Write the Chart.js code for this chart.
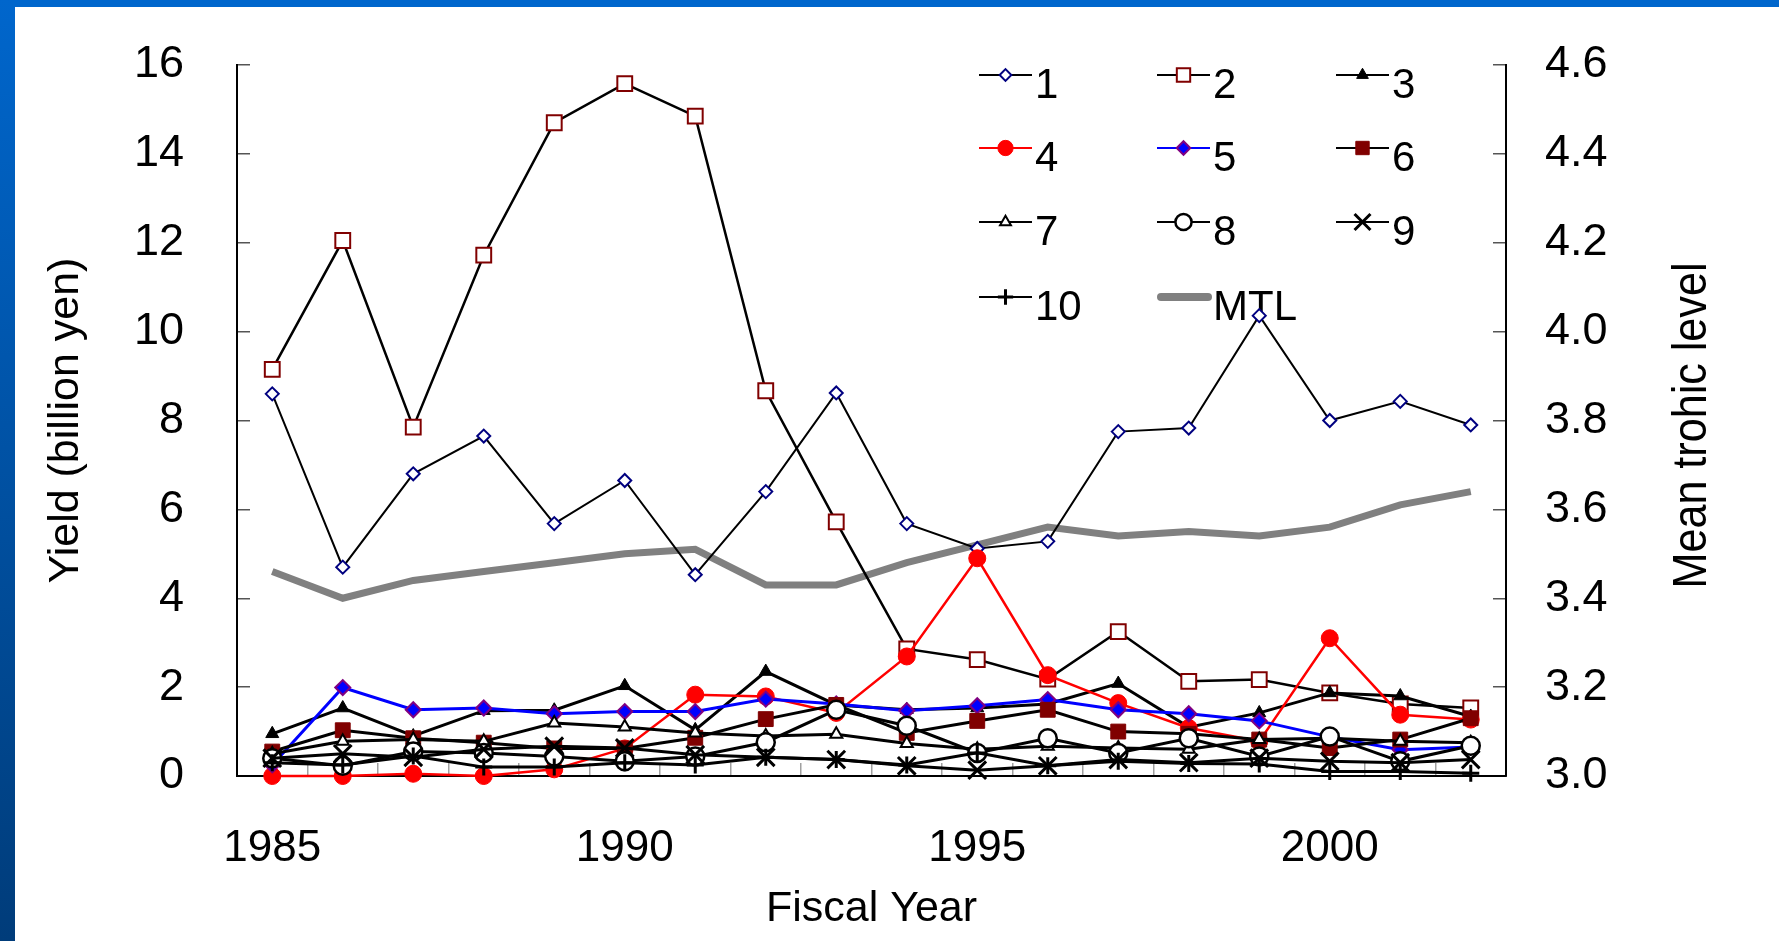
<!DOCTYPE html>
<html>
<head>
<meta charset="utf-8">
<script src="https://cdn.jsdelivr.net/npm/chart.js@4.4.1/dist/chart.umd.min.js"></script>
<style>
  html, body { margin: 0; padding: 0; background: #fff; }
  #wrap { position: relative; width: 1779px; height: 941px; overflow: hidden; background: #fff; }
  #topbar { position: absolute; left: 0; top: 0; width: 1779px; height: 7px; background: #0066cc; }
  #leftbar { position: absolute; left: 0; top: 0; width: 15px; height: 941px; background: linear-gradient(#0066cc, #003c7a); }
  #myChart { position: absolute; left: 0; top: 0; }
</style>
</head>
<body>
<div id="wrap">
  <div id="topbar"></div>
  <div id="leftbar"></div>
  <canvas id="myChart" width="1779" height="941"></canvas>
</div>
<script>
// fiscal years on the x axis
const years = ['1985', '1986', '1987', '1988', '1989', '1990', '1991', '1992', '1993',
  '1994', '1995', '1996', '1997', '1998', '1999', '2000', '2001', '2002'];

// yield by group, billion yen
const s1 = [8.6, 4.7, 6.8, 7.65, 5.68, 6.65, 4.53, 6.4, 8.62, 5.68, 5.12, 5.28, 7.75, 7.83, 10.36, 8.0, 8.43, 7.9];
const s2 = [9.15, 12.05, 7.85, 11.72, 14.7, 15.58, 14.85, 8.67, 5.72, 2.86, 2.62, 2.18, 3.25, 2.13, 2.17, 1.87, 1.62, 1.53];
const s3 = [0.95, 1.53, 0.9, 1.47, 1.48, 2.03, 1.04, 2.35, 1.6, 1.49, 1.53, 1.62, 2.08, 1.1, 1.42, 1.87, 1.8, 1.34];
const s4 = [0, 0, 0.05, 0, 0.15, 0.62, 1.83, 1.79, 1.42, 2.69, 4.9, 2.27, 1.64, 1.08, 0.78, 3.1, 1.38, 1.27];
const s5 = [0.25, 1.99, 1.49, 1.53, 1.4, 1.45, 1.45, 1.73, 1.62, 1.47, 1.58, 1.72, 1.49, 1.4, 1.24, 0.88, 0.59, 0.65];
const s6 = [0.55, 1.03, 0.85, 0.75, 0.62, 0.62, 0.86, 1.28, 1.6, 0.97, 1.24, 1.49, 1.0, 0.95, 0.82, 0.63, 0.82, 1.3];
const s7 = [0.5, 0.78, 0.82, 0.78, 1.19, 1.1, 0.97, 0.9, 0.94, 0.73, 0.6, 0.67, 0.63, 0.6, 0.82, 0.85, 0.78, 0.75];
const s8 = [0.4, 0.23, 0.55, 0.52, 0.44, 0.33, 0.44, 0.76, 1.49, 1.13, 0.52, 0.85, 0.52, 0.85, 0.44, 0.89, 0.33, 0.68];
const s9 = [0.4, 0.5, 0.42, 0.6, 0.67, 0.63, 0.48, 0.42, 0.37, 0.23, 0.13, 0.23, 0.37, 0.3, 0.4, 0.33, 0.3, 0.37];
const s10 = [0.3, 0.25, 0.45, 0.2, 0.2, 0.3, 0.25, 0.42, 0.37, 0.25, 0.52, 0.23, 0.33, 0.28, 0.27, 0.1, 0.1, 0.06];

// mean trophic level, right axis
const mtl = [3.46, 3.40, 3.44, 3.46, 3.48, 3.50, 3.51, 3.43, 3.43, 3.48, 3.52, 3.56, 3.54, 3.55, 3.54, 3.56, 3.61, 3.64];

const seriesNames = ['1', '2', '3', '4', '5', '6', '7', '8', '9', '10', 'MTL'];

Chart.defaults.font.family = "'Liberation Sans', Arial, sans-serif";
Chart.defaults.color = '#000';

function series(i, data, line, lw, style, r, fill, edge, bw) {
  return {
    label: seriesNames[i], data: data, yAxisID: 'y',
    borderColor: line, borderWidth: lw, tension: 0, fill: false, clip: false,
    pointStyle: style, pointRadius: r, pointHoverRadius: r,
    pointBackgroundColor: fill, pointBorderColor: edge, pointBorderWidth: bw,
    order: 10 - i
  };
}

const datasets = [
  series(0, s1, '#000', 2, 'rectRot', 6.5, '#fff', '#000080', 2),
  series(1, s2, '#000', 2.5, 'rect', 10.5, '#fff', '#800000', 2),
  series(2, s3, '#000', 3, 'triangle', 7.5, '#000', '#000', 1),
  series(3, s4, '#ff0000', 2.5, 'circle', 8.5, '#ff0000', '#ff0000', 1),
  series(4, s5, '#0000ff', 3, 'rectRot', 7.5, '#0000ff', '#800080', 2),
  series(5, s6, '#000', 3, 'rect', 10.5, '#800000', '#800000', 1),
  series(6, s7, '#000', 3, 'triangle', 7, '#fff', '#000', 2),
  series(7, s8, '#000', 3, 'circle', 9, '#fff', '#000', 2.5),
  series(8, s9, '#000', 3, 'crossRot', 12.5, '#000', '#000', 3),
  series(9, s10, '#000', 3, 'cross', 8.5, '#000', '#000', 3),
  {
    label: seriesNames[10], data: mtl, yAxisID: 'y2',
    borderColor: '#808080', borderWidth: 7, tension: 0, fill: false, clip: false,
    pointRadius: 0, pointHoverRadius: 0, order: 11
  }
];

// legend drawn as a 3 column grid inside the plot, under the lines
const legendGrid = {
  id: 'legendGrid',
  beforeDatasetsDraw(chart) {
    const ctx = chart.ctx;
    const colX = [979, 1157, 1336];
    const rowY = [75, 148, 222, 297];
    chart.data.datasets.forEach((ds, i) => {
      const x = colX[i % 3];
      const y = rowY[Math.floor(i / 3)];
      ctx.save();
      ctx.strokeStyle = ds.borderColor;
      if (ds.yAxisID === 'y2') {
        ctx.lineWidth = 8;
        ctx.lineCap = 'round';
        ctx.beginPath();
        ctx.moveTo(x + 4, y);
        ctx.lineTo(x + 51, y);
        ctx.stroke();
      } else {
        ctx.lineWidth = 2;
        ctx.beginPath();
        ctx.moveTo(x, y);
        ctx.lineTo(x + 53, y);
        ctx.stroke();
        ctx.fillStyle = ds.pointBackgroundColor;
        ctx.strokeStyle = ds.pointBorderColor;
        ctx.lineWidth = ds.pointBorderWidth;
        Chart.helpers.drawPoint(ctx, {
          pointStyle: ds.pointStyle, radius: ds.pointRadius * 0.9,
          rotation: 0, borderWidth: ds.pointBorderWidth
        }, x + 26.5, y);
      }
      ctx.fillStyle = '#000';
      ctx.font = "42px 'Liberation Sans', Arial, sans-serif";
      ctx.textAlign = 'left';
      ctx.textBaseline = 'alphabetic';
      ctx.fillText(ds.label, x + 56, y + 23);
      ctx.restore();
    });
  }
};

// narrow right axis title
const rightTitle = {
  id: 'rightTitle',
  afterDraw(chart) {
    const ctx = chart.ctx;
    const a = chart.chartArea;
    ctx.save();
    ctx.translate(1692, (a.top + a.bottom) / 2 + 5);
    ctx.rotate(-Math.PI / 2);
    ctx.scale(0.88, 1);
    ctx.font = "49px 'Liberation Sans', Arial, sans-serif";
    ctx.fillStyle = '#000';
    ctx.textAlign = 'center';
    ctx.textBaseline = 'middle';
    ctx.fillText('Mean trohic level', 0, 0);
    ctx.restore();
  }
};

const ctx = document.getElementById('myChart');

new Chart(ctx, {
  type: 'line',
  data: { labels: years, datasets: datasets },
  plugins: [legendGrid, rightTitle],
  options: {
    responsive: false,
    animation: false,
    events: [],
    layout: { padding: { top: 65, left: 0, right: 0, bottom: 0 } },
    plugins: { legend: { display: false }, tooltip: { enabled: false } },
    scales: {
      x: {
        type: 'category',
        offset: true,
        grid: { offset: true, drawOnChartArea: false, tickLength: -13, color: '#a0a0a0', lineWidth: 1.5 },
        border: { display: true, color: '#000', width: 2 },
        ticks: {
          autoSkip: false, maxRotation: 0, minRotation: 0, padding: 59,
          font: { size: 44 },
          callback: function (v, i) { return Number(years[i]) % 5 === 0 ? years[i] : ''; }
        },
        title: { display: true, text: 'Fiscal Year', font: { size: 43 }, padding: { top: 0, bottom: 6 } },
        afterFit: function (s) { s.height = 165; }
      },
      y: {
        position: 'left',
        min: 0, max: 16,
        grid: { drawOnChartArea: false, tickLength: -13, color: '#555', lineWidth: 1.5 },
        border: { display: true, color: '#000', width: 2 },
        ticks: { stepSize: 2, padding: 66, font: { size: 45 } },
        title: { display: true, text: 'Yield (billion yen)', font: { size: 43 }, padding: { top: 40, bottom: 0 } },
        afterFit: function (s) { s.width = 237; s.paddingTop = 20; s.paddingBottom = 20; }
      },
      y2: {
        position: 'right',
        min: 3.0, max: 4.6,
        grid: { drawOnChartArea: false, tickLength: -13, color: '#555', lineWidth: 1.5 },
        border: { display: true, color: '#000', width: 2 },
        ticks: { stepSize: 0.2, padding: 52, font: { size: 45 }, callback: v => Number(v).toFixed(1) },
        afterFit: function (s) { s.width = 273; s.paddingTop = 20; s.paddingBottom = 20; }
      }
    }
  }
});
</script>
</body>
</html>
